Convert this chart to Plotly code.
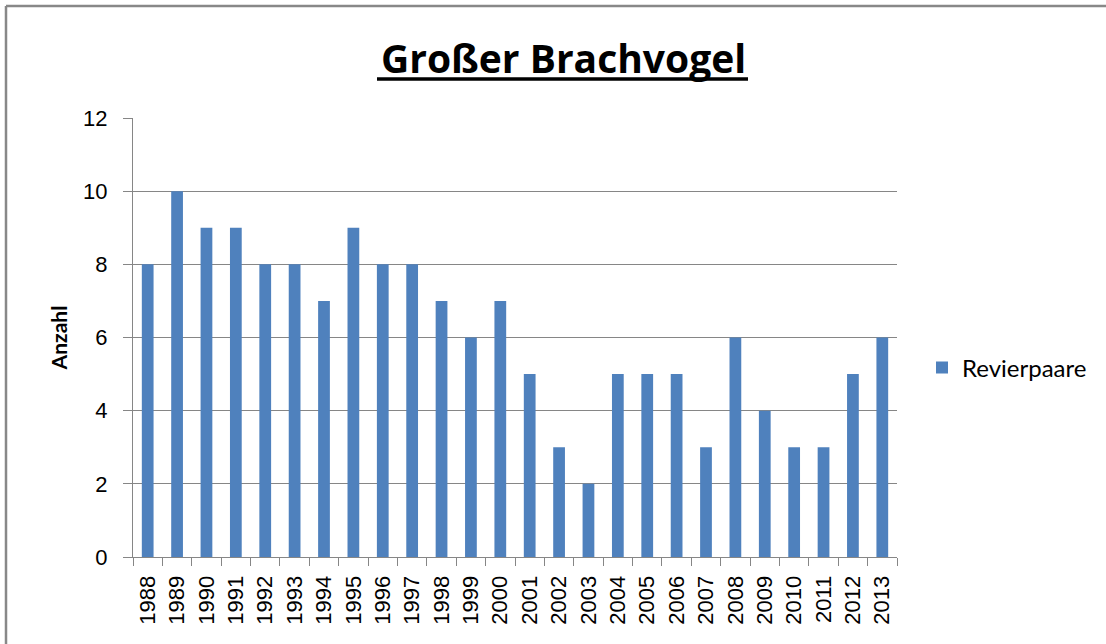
import plotly.graph_objects as go

years = [str(y) for y in range(1988, 2014)]
revierpaare = [8, 10, 9, 9, 8, 8, 7, 9, 8, 8, 7, 6, 7, 5, 3, 2, 5, 5, 5, 3, 6, 4, 3, 3, 5, 6]
title_text = "Großer Brachvogel"
series_name = "Revierpaare"
y_title = "Anzahl"
y_ticks = [0, 2, 4, 6, 8, 10, 12]

W, H = 1106, 644
L, R, T, B = 133, 897, 118, 557
pw, ph = R - L, B - T

def px(x):
    return (x - L) / pw

def py(y):
    return (B - y) / ph

GRID = "#868686"
BAR = "#4F81BD"

fig = go.Figure()
fig.add_trace(go.Bar(x=years, y=revierpaare, name=series_name, marker_color=BAR, marker_line_width=0))

fig.update_layout(
    width=W, height=H,
    margin=dict(l=L, r=W - R, t=T, b=H - B, pad=0, autoexpand=False),
    paper_bgcolor="white", plot_bgcolor="white",
    bargap=0.6,
    showlegend=True,
    legend=dict(x=px(922), y=py(368), xanchor="left", yanchor="middle",
                font=dict(family="Lato", size=24, color="#000"),
                itemwidth=30, bgcolor="rgba(0,0,0,0)"),
    font=dict(family="Liberation Sans", color="#000"),
)
fig.update_xaxes(
    type="category", tickson="boundaries", ticks="outside", ticklen=8, tickwidth=1,
    tickcolor=GRID, showline=True, linecolor=GRID, linewidth=1, showgrid=False,
    tickangle=-90, tickfont=dict(family="Liberation Sans", size=22, color="#000"),
    ticklabelstandoff=9,
)
fig.update_yaxes(
    range=[0, 12], tickvals=y_ticks, ticks="outside", ticklen=9, tickwidth=1,
    tickcolor=GRID, showline=True, linecolor=GRID, linewidth=1,
    showgrid=True, gridcolor=GRID, gridwidth=1, zeroline=False,
    tickfont=dict(family="Liberation Sans", size=22, color="#000"),
    ticklabelstandoff=11,
    title=dict(text="<b>" + y_title + "</b>", font=dict(family="Lato", size=21, color="#000"), standoff=9),
)

fig.add_annotation(
    text="<b>" + title_text + "</b>", xref="paper", yref="paper",
    x=px(563), y=py(57), xanchor="center", yanchor="middle", showarrow=False,
    font=dict(family="Open Sans", size=39, color="#000"),
)
# underline of the title
fig.add_shape(type="line", xref="paper", yref="paper", x0=px(377), x1=px(748), y0=py(79), y1=py(79),
              line=dict(color="#000", width=3.5))
# chart border (top and left)
fig.add_shape(type="line", xref="paper", yref="paper", x0=px(6), x1=px(1110), y0=py(6), y1=py(6),
              line=dict(color="#888888", width=2.5))
fig.add_shape(type="line", xref="paper", yref="paper", x0=px(6), x1=px(6), y0=py(6), y1=py(650),
              line=dict(color="#888888", width=2.5))

fig.write_html("out.html", config={"displayModeBar": False},
               post_script="document.body.style.margin='0';document.body.style.padding='0';")
